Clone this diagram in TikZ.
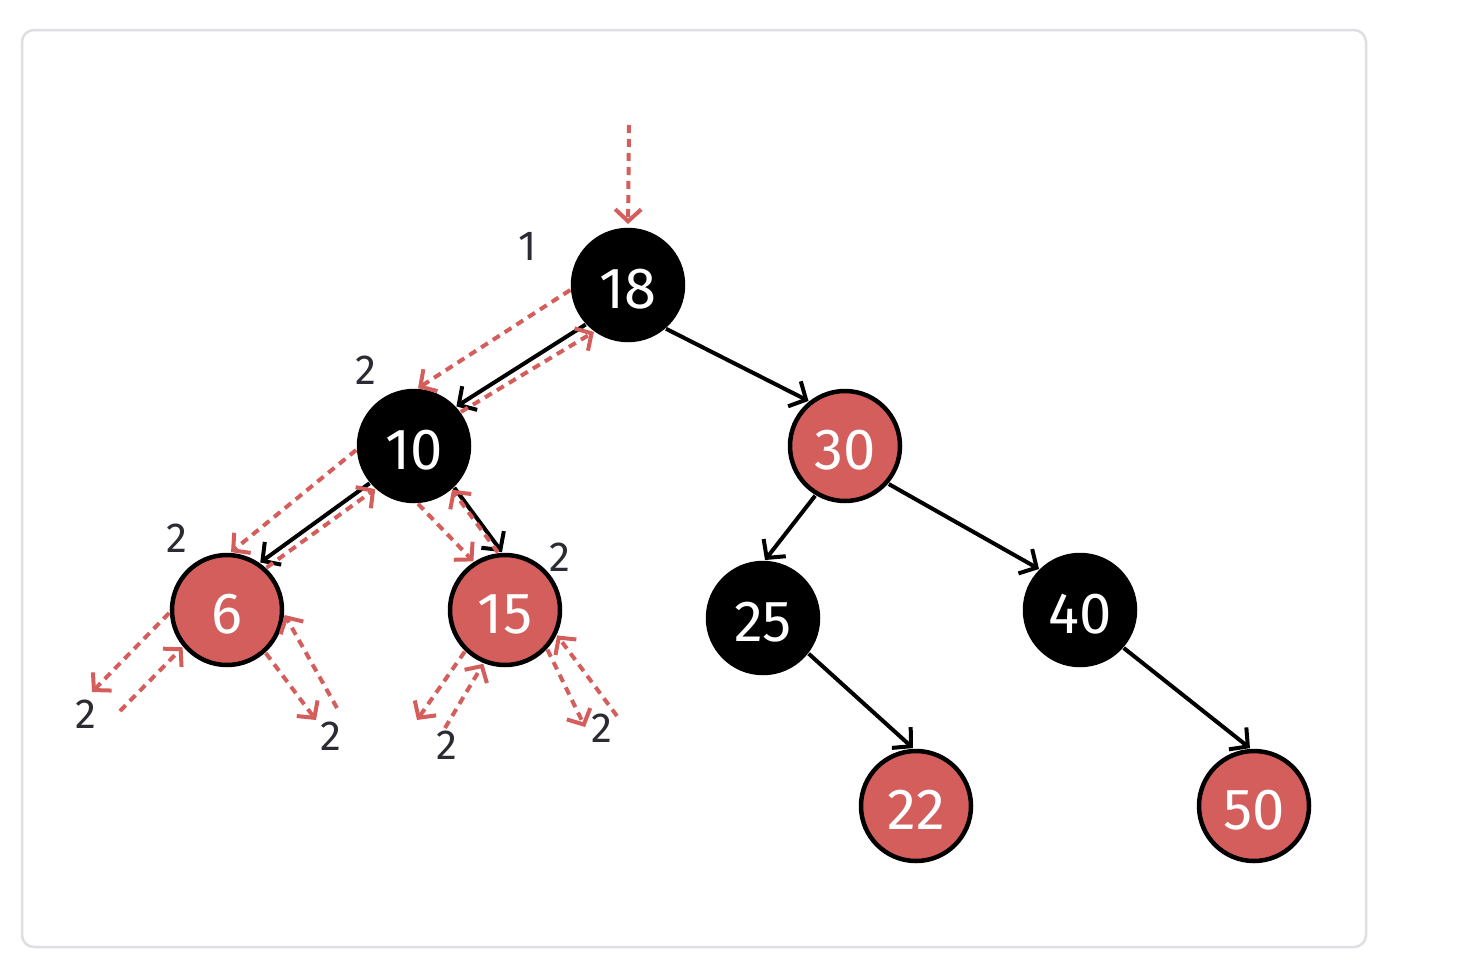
\documentclass[tikz,border=0pt]{standalone}
\usepackage{fontspec}
\setmainfont{Fira Sans}
\usetikzlibrary{arrows.meta}
\definecolor{rbred}{HTML}{D35E5C}
\definecolor{framegray}{HTML}{DEDEE3}
\definecolor{labelgray}{HTML}{2B2B33}
\newcommand{\nlab}[1]{\raisebox{-4pt}[\height][\depth]{#1}}
\begin{document}
\begin{tikzpicture}[x=1pt,y=-1pt,
  rbnode/.style={circle,draw=black,line width=4.5pt,minimum size=110pt,inner sep=0pt,outer sep=3pt,text=white,font=\fontsize{58}{62}\selectfont},
  blacknode/.style={rbnode,fill=black},
  rednode/.style={rbnode,fill=rbred},
  edge/.style={draw=black,line width=4pt,-{Straight Barb[length=13pt,width=28pt,line width=4pt]}},
  trav/.style={draw=rbred,line width=4pt,dash pattern=on 8pt off 6pt,-{Straight Barb[length=12pt,width=26pt,line width=4pt]}},
  bh/.style={text=labelgray,font=\fontsize{42}{46}\selectfont,inner sep=0pt}]
\useasboundingbox (0,0) rectangle (1470,964);
\fill[white] (0,0) rectangle (1470,964);
\draw[framegray,line width=2.5pt,rounded corners=12pt] (22,30) rectangle (1366,947);

% nodes
\node[blacknode] (n18) at (628,285) {\nlab{18}};
\node[blacknode] (n10) at (414,446) {\nlab{10}};
\node[rednode]   (n30) at (845,446) {\nlab{30}};
\node[rednode]   (n6)  at (227,610) {\nlab{6}};
\node[rednode]   (n15) at (505,610) {\nlab{15}};
\node[blacknode] (n25) at (763,618) {\nlab{25}};
\node[blacknode] (n40) at (1080,610) {\nlab{40}};
\node[rednode]   (n22) at (916,806) {\nlab{22}};
\node[rednode]   (n50) at (1254,806) {\nlab{50}};

% black-height labels
\node[bh] (l18) at (528,246) {1};
\node[bh] (l10) at (366,370) {2};
\node[bh] (l6)  at (177,538) {2};
\node[bh] (l15) at (560,557) {2};
\node[bh] (l6a) at (86,714) {2};
\node[bh] (l6b) at (331,736) {2};
\node[bh] (l15a) at (447,745) {2};
\node[bh] (l15b) at (602,728) {2};

% tree edges
\draw[edge] (n18.223) -- (n10.43);
\draw[edge] (n18.-49) -- (n30.129);
\draw[edge] (n10.220) -- (n6.55);
\draw[edge] (n10.-46) -- (n15.93);
\draw[edge] (n30.-121) -- (n25.88);
\draw[edge] (n30.-41) -- (n40.135);
\draw[edge] (n25.-38) -- (n22.93);
\draw[edge] (n40.-41) -- (n50.94);

% traversal coordinates
\coordinate (top) at (629,125);
\coordinate (a1) at (92,692);
\coordinate (a2) at (120,711);
\coordinate (b1) at (316,720);
\coordinate (b2) at (337,708);
\coordinate (c1) at (417,720);
\coordinate (c2) at (445,728);
\coordinate (d1) at (585,727);
\coordinate (d2) at (617,716);

% traversal (dashed red)
\draw[trav,shorten >=3pt] (top) -- (n18.90);
\draw[trav] (n18.185) -- (n10.86);
\draw[trav] (n10.36) -- (n18.234);
\draw[trav] (n10.184) -- (n6.86);
\draw[trav] (n6.47) -- (n10.228);
\draw[trav] (n10.274) -- (n15.123);
\draw[trav] (n15.97) -- (n10.-49);
\draw[trav] (n6.183) -- (a1);
\draw[trav] (a2) -- (n6.220);
\draw[trav] (n6.-48) -- (b1);
\draw[trav] (b2) -- (n6.-5);
\draw[trav] (n15.226) -- (c1);
\draw[trav] (c2) -- (n15.248);
\draw[trav] (n15.-43) -- (d1);
\draw[trav] (d2) -- (n15.-26);
\end{tikzpicture}
\end{document}
